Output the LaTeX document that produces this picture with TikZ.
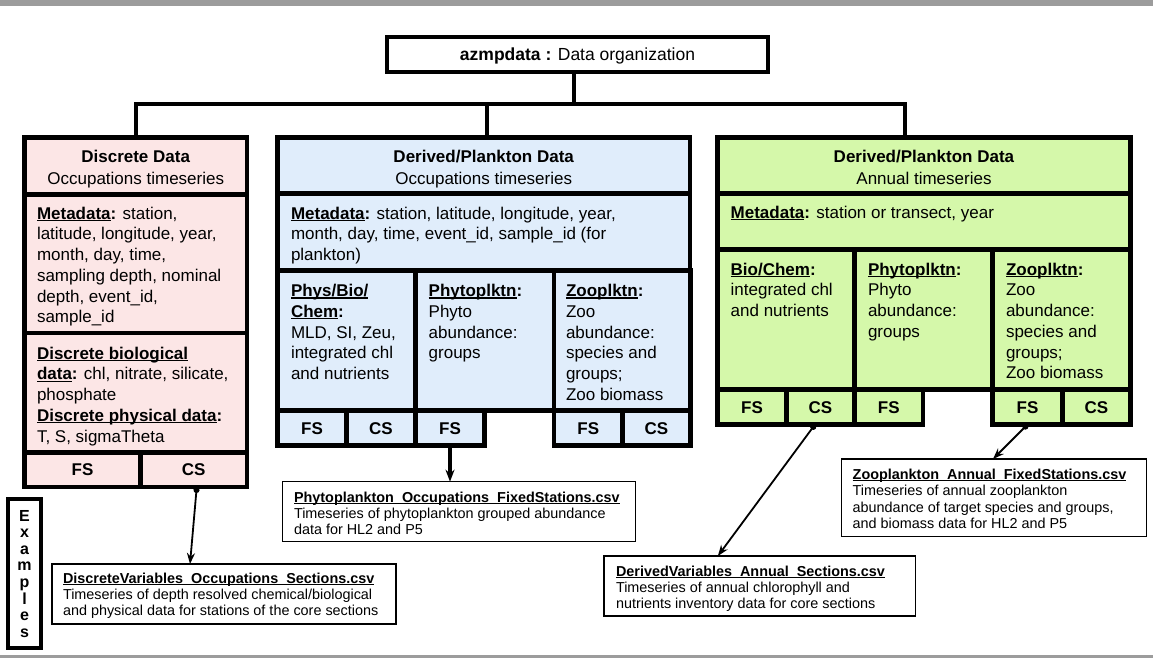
\documentclass[tikz,border=0pt]{standalone}
\usepackage{fontspec}
\setmainfont{Liberation Sans}
\usetikzlibrary{arrows.meta,calc}
\definecolor{pinkc}{HTML}{FCE6E6}
\definecolor{bluec}{HTML}{E0EDFB}
\definecolor{greenc}{HTML}{D5F8AA}
\definecolor{barc}{HTML}{9C9C9C}
\newcommand\uln[1]{\setbox0=\hbox{#1}\rlap{\rule[-0.13em]{\wd0}{0.075em}}\box0}
\newcommand\cellbox[7]{\node[cell, fill=#6, minimum width={(#4)-(#2)}, minimum height={(#5)-(#3)}] (#1) at ({((#2)+(#4))/2},{((#3)+(#5))/2}) {#7};}
\tikzset{
  cell/.style={draw, line width=4.5pt, inner sep=0pt, outer sep=0pt,
    font=\bfseries\fontsize{17}{20}\selectfont, text height=12.2pt, text depth=0pt},
  txt/.style={inner sep=0pt, outer sep=0pt, anchor=base west, font=\fontsize{17}{20.75}\selectfont},
  hdr/.style={inner sep=0pt, outer sep=0pt, anchor=base, font=\fontsize{17}{21.5}\selectfont},
  smalltxt/.style={inner sep=0pt, outer sep=0pt, anchor=base west, font=\fontsize{14.4}{16.3}\selectfont},
  csvbox/.style={draw, line width=1.2pt, inner sep=0pt, outer sep=0pt, fill=white},
  titlebox/.style={draw, line width=4.5pt, inner sep=0pt, outer sep=0pt, fill=white,
    font=\fontsize{17.5}{20}\selectfont, text height=12.5pt, text depth=0pt},
  tree/.style={line width=4pt},
  arrd/.style={line width=1.8pt, {Circle[length=6pt]}-{Stealth[length=11pt,width=8pt]}},
  arrb/.style={line width=3.2pt, -{Stealth[length=12pt,width=9pt]}}
}
\begin{document}
\begin{tikzpicture}[x=1pt,y=-1pt]
\useasboundingbox (0,0) rectangle (1153,658);
\fill[barc] (0,0) rectangle (1153,5.7);
\fill[barc] (0,655) rectangle (1153,658);

% title and tree
\node[titlebox, minimum width=381, minimum height=35] (title) at (577.5,54.5) {\textbf{azmpdata :} Data organization};
\coordinate (bus) at (574,104.5);
\coordinate (btop) at (487,137.5);
\coordinate (gtop) at (905,137.5);
\draw[tree] (bus |- title.south) -- (bus);
\draw[tree] (135.75,137.5) |- (gtop |- bus) -- (gtop);
\draw[tree] (btop) -- (btop |- bus);

% Discrete data (pink)
\cellbox{dhead}{24.5}{137.5}{247}{194.5}{pinkc}{}
\cellbox{dmeta}{24.5}{194.5}{247}{333}{pinkc}{}
\cellbox{dbio}{24.5}{333}{247}{452.5}{pinkc}{}
\cellbox{dfs}{24.5}{452.5}{140.5}{487}{pinkc}{FS}
\cellbox{dcs}{140.5}{452.5}{247}{487}{pinkc}{CS}
\node[hdr] (dhead-t) at (135.75,162.5) {\parbox[t]{220pt}{\centering\textbf{Discrete Data}\\Occupations timeseries}};
\node[txt] (dmeta-t) at (37,219) {\parbox[t]{205pt}{\raggedright\textbf{\uln{Metadata}:} station,\\latitude, longitude, year,\\month, day, time,\\sampling depth, nominal\\depth, event\_id,\\sample\_id}};
\node[txt] (dbio-t) at (37,359) {\parbox[t]{205pt}{\raggedright\textbf{\uln{Discrete biological}}\\\textbf{\uln{data}:} chl, nitrate, silicate,\\phosphate\\\textbf{\uln{Discrete physical data}:}\\T, S, sigmaTheta}};

% Derived occupations (blue)
\cellbox{bhead}{277.5}{137.5}{690}{193.5}{bluec}{}
\cellbox{bmeta}{277.5}{193.5}{690}{270.5}{bluec}{}
\cellbox{bphys}{277.5}{270.5}{415.5}{410.5}{bluec}{}
\cellbox{bphyto}{415.5}{270.5}{554}{410.5}{bluec}{}
\cellbox{bzoo}{554}{270.5}{690.5}{410.5}{bluec}{}
\cellbox{bfs1}{277.5}{410.5}{346.5}{445.5}{bluec}{FS}
\cellbox{bcs1}{346.5}{410.5}{415.5}{445.5}{bluec}{CS}
\cellbox{bfs2}{415.5}{410.5}{484.5}{445.5}{bluec}{FS}
\cellbox{bfs3}{554}{410.5}{622.5}{445.5}{bluec}{FS}
\cellbox{bcs3}{622.5}{410.5}{690.5}{445.5}{bluec}{CS}
\node[hdr] (bhead-t) at (483.75,162.5) {\parbox[t]{400pt}{\centering\textbf{Derived/Plankton Data}\\Occupations timeseries}};
\node[txt] (bmeta-t) at (291,219) {\parbox[t]{390pt}{\raggedright\textbf{\uln{Metadata}:} station, latitude, longitude, year,\\month, day, time, event\_id, sample\_id (for\\plankton)}};
\node[txt] (bphys-t) at (291,296.5) {\parbox[t]{125pt}{\raggedright\textbf{\uln{Phys/Bio/}}\\\textbf{\uln{Chem}:}\\MLD, SI, Zeu,\\integrated chl\\and nutrients}};
\node[txt] (bphyto-t) at (428.7,296.5) {\parbox[t]{125pt}{\raggedright\textbf{\uln{Phytoplktn}:}\\Phyto\\abundance:\\groups}};
\node[txt] (bzoo-t) at (566,296.5) {\parbox[t]{125pt}{\raggedright\textbf{\uln{Zooplktn}:}\\Zoo\\abundance:\\species and\\groups;\\Zoo biomass}};

% Derived annual (green)
\cellbox{ghead}{717.5}{137.5}{1130.5}{193.5}{greenc}{}
\cellbox{gmeta}{717.5}{193.5}{1130.5}{249.5}{greenc}{}
\cellbox{gbio}{717.5}{249.5}{854.5}{389.5}{greenc}{}
\cellbox{gphyto}{854.5}{249.5}{992.5}{389.5}{greenc}{}
\cellbox{gzoo}{992.5}{249.5}{1130.5}{389.5}{greenc}{}
\cellbox{gfs1}{717.5}{389.5}{786.5}{424.5}{greenc}{FS}
\cellbox{gcs1}{786.5}{389.5}{854.5}{424.5}{greenc}{CS}
\cellbox{gfs2}{854.5}{389.5}{923}{424.5}{greenc}{FS}
\cellbox{gfs3}{992.5}{389.5}{1062.5}{424.5}{greenc}{FS}
\cellbox{gcs3}{1062.5}{389.5}{1130.5}{424.5}{greenc}{CS}
\node[hdr] (ghead-t) at (924,162.5) {\parbox[t]{400pt}{\centering\textbf{Derived/Plankton Data}\\Annual timeseries}};
\node[txt] (gmeta-t) at (730.7,218) {\parbox[t]{390pt}{\raggedright\textbf{\uln{Metadata}:} station or transect, year}};
\node[txt] (gbio-t) at (730.7,275) {\parbox[t]{125pt}{\raggedright\textbf{\uln{Bio/Chem}:}\\integrated chl\\and nutrients}};
\node[txt] (gphyto-t) at (868,275) {\parbox[t]{125pt}{\raggedright\textbf{\uln{Phytoplktn}:}\\Phyto\\abundance:\\groups}};
\node[txt] (gzoo-t) at (1006,275) {\parbox[t]{125pt}{\raggedright\textbf{\uln{Zooplktn}:}\\Zoo\\abundance:\\species and\\groups;\\Zoo biomass}};

% Examples label
\node[draw, line width=4.5pt, inner sep=0pt, outer sep=0pt, fill=white, minimum width=33, minimum height=149] (ex) at (24.5,573.5) {};
\node[inner sep=0pt, anchor=base, font=\bfseries\fontsize{16}{16.6}\selectfont] (ex-t) at (24.5,521) {\parbox[t]{30pt}{\centering E\\x\\a\\m\\p\\l\\e\\s}};

% CSV boxes
\node[csvbox, minimum width=344, minimum height=60] (dcsv) at (224,594) {};
\node[smalltxt] (dcsv-t) at (63,583.3) {\parbox[t]{340pt}{\raggedright\textbf{\uln{DiscreteVariables\_Occupations\_Sections.csv}}\\Timeseries of depth resolved chemical/biological\\and physical data for stations of the core sections}};
\node[csvbox, minimum width=353, minimum height=60] (pcsv) at (459.2,511.7) {};
\node[smalltxt] (pcsv-t) at (294,502) {\parbox[t]{340pt}{\raggedright\textbf{\uln{Phytoplankton\_Occupations\_FixedStations.csv}}\\Timeseries of phytoplankton grouped abundance\\data for HL2 and P5}};
\node[csvbox, minimum width=311.7, minimum height=60] (dvcsv) at (759.85,586) {};
\node[smalltxt] (dvcsv-t) at (616,576) {\parbox[t]{300pt}{\raggedright\textbf{\uln{DerivedVariables\_Annual\_Sections.csv}}\\Timeseries of annual chlorophyll and\\nutrients inventory data for core sections}};
\node[csvbox, minimum width=305, minimum height=77.7] (zcsv) at (994.2,497.85) {};
\node[smalltxt] (zcsv-t) at (852.7,479.5) {\parbox[t]{300pt}{\raggedright\textbf{\uln{Zooplankton\_Annual\_FixedStations.csv}}\\Timeseries of annual zooplankton\\abundance of target species and groups,\\and biomass data for HL2 and P5}};

% arrows
\draw[arrd] ([xshift=3pt]dcs.south) -- ([xshift=-34pt]dcsv.north);
\draw[arrb] (bfs2.south) -- (bfs2.south |- pcsv.north);
\draw[arrd] ([xshift=-5.5pt]gcs1.south) -- ([xshift=-42pt]dvcsv.north);
\draw[arrd] (gfs3.south) -- ([xshift=-1.2pt]zcsv.north);
\end{tikzpicture}
\end{document}
